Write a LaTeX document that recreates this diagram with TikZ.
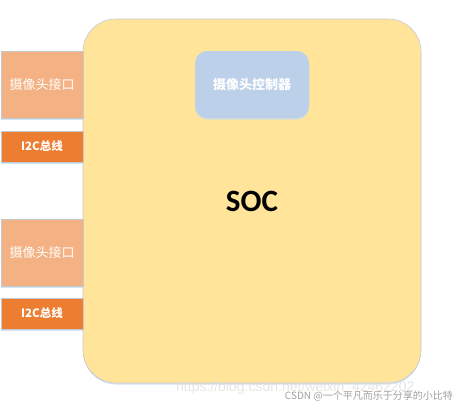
\documentclass[tikz,border=0pt]{standalone}
\usepackage{fontspec}
\newfontfamily\cjk{Noto Sans CJK SC}
\newfontfamily\calibri{Carlito}
\newfontfamily\arial{Liberation Sans}
\usetikzlibrary{shadows}
\definecolor{socfill}{HTML}{FFE499}
\definecolor{portfill}{HTML}{F4B183}
\definecolor{busfill}{HTML}{ED7D31}
\definecolor{ctrlfill}{HTML}{BDD0E9}
\definecolor{edgegray}{HTML}{C4C8CF}
\definecolor{shade}{HTML}{C9DCF2}
\begin{document}
\begin{tikzpicture}[x=1pt,y=-1pt]
		\tikzset{box/.style = {shape=rectangle,draw=edgegray,line width=0.6pt,inner sep=0pt,
			drop shadow={shadow xshift=0pt,shadow yshift=-1.5pt,fill=shade,opacity=0.8}}}
		\tikzset{port/.style = {box,fill=portfill,minimum width=82pt,minimum height=67pt,
			text=white,font=\cjk\fontsize{13}{13}\selectfont}}
		\tikzset{bus/.style = {box,fill=busfill,minimum width=82pt,minimum height=31pt,
			text=white,font=\cjk\bfseries\fontsize{11.5}{11.5}\selectfont}}
		\useasboundingbox (0,0) rectangle (457,407);
		\node[box,fill=socfill,rounded corners=33pt,minimum width=338pt,minimum height=364pt,
			font=\calibri\bfseries\fontsize{31}{31}\selectfont] (soc) at (252,201) {SOC};
		\node[box,draw=none,fill=ctrlfill,rounded corners=12pt,minimum width=114pt,minimum height=67pt,
			text=white,font=\cjk\bfseries\fontsize{13}{13}\selectfont] (ctrl) at (252,84.5) {摄像头控制器};
		\node[port] (port1) at (42,84.5) {摄像头接口};
		\node[bus] (bus1) at (42,146.5) {I2C总线};
		\node[port] (port2) at (42,252.5) {摄像头接口};
		\node[bus] (bus2) at (42,313.5) {I2C总线};
		\node[anchor=west,inner sep=0pt,text=gray!25,opacity=0.8,font=\arial\fontsize{14}{14}\selectfont]
			(url) at (176,388) {https://blog.csdn.net/weixin\_42462202};
		\node[anchor=east,inner sep=0pt,text=gray!75,font=\cjk\fontsize{10}{10}\selectfont]
			(mark) at (453,396) {CSDN @一个平凡而乐于分享的小比特};
	\end{tikzpicture}
\end{document}
